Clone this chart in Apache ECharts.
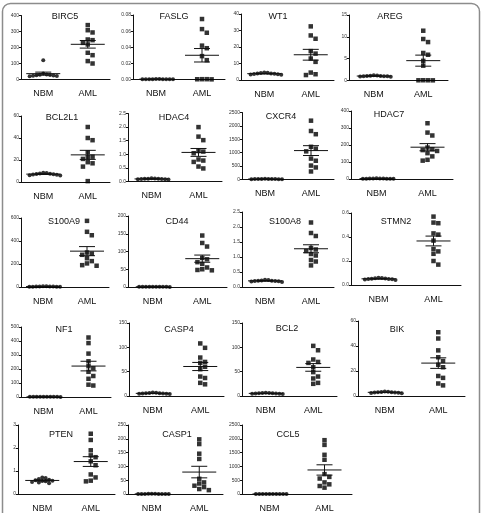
<!DOCTYPE html>
<html>
<head>
<meta charset="utf-8">
<script src="https://cdn.jsdelivr.net/npm/echarts@6/dist/echarts.min.js"></script>
<style>
html, body { margin: 0; padding: 0; background: #fff; }
#chart { width: 483px; height: 513px; }
</style>
</head>
<body>
<div id="chart"></div>
<script>
// genes in reading order (4 per row)
const genes = ['BIRC5', 'FASLG', 'WT1', 'AREG', 'BCL2L1', 'HDAC4', 'CXCR4', 'HDAC7', 'S100A9', 'CD44',
  'S100A8', 'STMN2', 'NF1', 'CASP4', 'BCL2', 'BIK', 'PTEN', 'CASP1', 'CCL5'];
const groups = ['NBM', 'AML'];

// y axis max / tick step / decimals of tick labels
const yMax = [400, 0.08, 40, 15, 60, 2.5, 2500, 400, 600, 200, 2.5, 0.6, 500, 150, 150, 60, 3, 250, 2500];
const yStep = [100, 0.02, 10, 5, 20, 0.5, 500, 100, 200, 50, 0.5, 0.2, 100, 50, 50, 20, 1, 50, 500];
const yDec = [0, 2, 0, 0, 0, 1, 0, 0, 0, 0, 1, 1, 0, 0, 0, 0, 0, 0, 0];

// values
const birc5NBM = [121, 38, 32, 28, 25, 22, 30, 20, 26, 24];
const birc5AML = [340, 308, 294, 250, 246, 229, 219, 167, 152, 115, 100];
const faslgNBM = [0.0004, 0.0003, 0.0005, 0.0002, 0.0004, 0.0003, 0.0006, 0.0002, 0.0003, 0.0004];
const faslgAML = [0.075, 0.0625, 0.058, 0.042, 0.0388, 0.029, 0.024, 0.0004, 0.0003, 0.0004, 0.0002];
const wt1NBM = [3.5, 4.2, 3.8, 3.3, 4.6, 3.9, 3.6, 4.4, 3.2, 4.0];
const wt1AML = [32.5, 27, 25, 17.5, 16, 13, 11, 4.5, 3.5, 3];
const aregNBM = [0.95, 1.1, 1.0, 0.9, 1.2, 1.05, 0.98, 1.15, 0.88, 1.02];
const aregAML = [11.4, 9.5, 8.8, 6.3, 5.9, 4.5, 3.4, 0.05, 0.04, 0.06, 0.05];
const bcl2l1NBM = [7.2, 8.5, 6.5, 7.8, 5.8, 7.0, 8.2, 6.8, 7.5, 6.2];
const bcl2l1AML = [50, 40, 38, 27, 23, 22.5, 21, 18, 17, 14, 0.8];
const hdac4NBM = [0.09, 0.11, 0.08, 0.1, 0.12, 0.07, 0.095, 0.105, 0.085, 0.1];
const hdac4AML = [2.0, 1.65, 1.52, 1.12, 1.1, 1.04, 0.81, 0.77, 0.72, 0.55, 0.48];
const cxcr4NBM = [15, 22, 10, 18, 25, 12, 20, 8, 16, 14];
const cxcr4AML = [2195, 1810, 1690, 1220, 1150, 1050, 780, 700, 520, 450, 300];
const hdac7NBM = [2, 3, 1.5, 2.5, 4, 1, 3.5, 2, 2.8, 1.8];
const hdac7AML = [328, 273, 256, 185, 175, 170, 165, 152, 133, 113, 108];
const s100a9NBM = [3, 5, 2, 4, 6, 3.5, 2.5, 4.5, 3, 5.5];
const s100a9AML = [575, 480, 450, 300, 290, 280, 250, 225, 205, 190, 185];
const cd44NBM = [0.5, 0.8, 0.3, 0.6, 1, 0.4, 0.7, 0.5, 0.9, 0.6];
const cd44AML = [145, 124, 114, 82, 78, 70, 65, 55, 50, 48, 47];
const s100a8NBM = [0.2, 0.22, 0.18, 0.21, 0.24, 0.19, 0.2, 0.23, 0.17, 0.21];
const s100a8AML = [2.15, 1.8, 1.7, 1.3, 1.25, 1.2, 1.1, 1.05, 0.9, 0.85, 0.72];
const stmn2NBM = [0.05, 0.055, 0.045, 0.06, 0.048, 0.052, 0.058, 0.042, 0.05, 0.056];
const stmn2AML = [0.57, 0.52, 0.515, 0.43, 0.42, 0.37, 0.3, 0.28, 0.26, 0.2, 0.17];
const nf1NBM = [1, 2, 1.5, 0.8, 2.5, 1.2, 1.8, 1, 2.2, 1.4];
const nf1AML = [425, 385, 310, 255, 220, 205, 180, 150, 130, 88, 82];
const casp4NBM = [5, 6, 4.5, 5.5, 7, 4, 6.5, 5, 5.8, 4.8];
const casp4AML = [108, 99, 79, 70, 68, 60, 55, 40, 37, 27, 24];
const bcl2NBM = [5, 6, 4.5, 5.5, 6.8, 4.2, 6.2, 5, 5.6, 4.8];
const bcl2AML = [103, 94, 75, 70, 68, 59, 49, 40, 36, 27, 25];
const bikNBM = [2.8, 3.2, 2.5, 3, 3.6, 2.2, 3.4, 2.6, 3.1, 2.9];
const bikAML = [51, 46, 36.5, 31, 28, 25, 23, 16, 14.5, 10, 8.5];
const ptenNBM = [0.58, 0.65, 0.52, 0.7, 0.47, 0.6, 0.55, 0.72, 0.5, 0.62, 0.57];
const ptenAML = [2.62, 2.35, 1.9, 1.68, 1.6, 1.42, 1.25, 0.85, 0.72, 0.58, 0.55];
const casp1NBM = [0.3, 0.5, 0.2, 0.4, 0.6, 0.3, 0.45, 0.25, 0.35, 0.5];
const casp1AML = [198, 181, 146, 127, 55, 42, 38, 30, 25, 18, 14];
const ccl5NBM = [2, 3, 1.5, 2.5, 4, 2, 3.5, 1, 2.8, 2.2];
const ccl5AML = [1950, 1780, 1420, 1240, 720, 620, 560, 420, 350, 290, 230];

const nbmData = [birc5NBM, faslgNBM, wt1NBM, aregNBM, bcl2l1NBM, hdac4NBM, cxcr4NBM, hdac7NBM, s100a9NBM,
  cd44NBM, s100a8NBM, stmn2NBM, nf1NBM, casp4NBM, bcl2NBM, bikNBM, ptenNBM, casp1NBM, ccl5NBM];
const amlData = [birc5AML, faslgAML, wt1AML, aregAML, bcl2l1AML, hdac4AML, cxcr4AML, hdac7AML, s100a9AML,
  cd44AML, s100a8AML, stmn2AML, nf1AML, casp4AML, bcl2AML, bikAML, ptenAML, casp1AML, ccl5AML];

// plot boxes [left, top, width, height] and title centres
const boxes = [
  [21, 15.5, 89, 64], [133, 15, 92, 64.5], [241, 14, 93, 66], [349, 15, 99, 65.5],
  [21, 116, 89, 66], [128, 113.5, 94, 68], [242, 112.5, 92, 67], [351, 111, 102, 68],
  [21, 218, 88, 69], [128, 216, 99, 71], [242, 212, 92, 75], [351, 213, 110, 72],
  [21, 327, 90, 70], [129, 323, 95, 73], [242, 323, 95, 73], [358, 321, 107, 75],
  [18, 425, 97, 72], [128, 425, 95, 72], [242, 425, 110, 72]
];
const titlePos = [
  [65, 17], [174, 17], [278, 17], [390, 17],
  [62, 118], [174, 118], [281, 117], [389, 115],
  [64, 222], [177, 222], [285, 222], [396, 222],
  [64, 330], [179, 330], [287, 329], [397, 330],
  [61, 435], [177, 435], [288, 435]
];

const FONT = '"Liberation Sans", Arial, sans-serif';
const INK = '#111';

function mean(a) { return a.reduce((s, v) => s + v, 0) / a.length; }
function sem(a) {
  const m = mean(a);
  const v = a.reduce((s, x) => s + (x - m) * (x - m), 0) / (a.length - 1);
  return Math.sqrt(v / a.length);
}

// beeswarm offsets in pixels so that dots do not sit on top of each other
function swarm(vals, ppu, d) {
  const order = vals.map((v, i) => i).sort((a, b) => vals[b] - vals[a]);
  const placed = [];
  const off = new Array(vals.length).fill(0);
  order.forEach(i => {
    const y = vals[i] * ppu;
    for (let k = 0; k < 60; k++) {
      const dx = (k % 2 ? 1 : -1) * Math.ceil(k / 2) * d;
      const hit = placed.some(p => Math.abs(p[0] - dx) < d - 0.01 && Math.abs(p[1] - y) < d - 0.01);
      if (!hit) { off[i] = dx; placed.push([dx, y]); break; }
    }
  });
  return off;
}

function renderMean(params, api) {
  const x = api.value(0), m = api.value(1), s = api.value(2);
  const c = api.coord([x, m]);
  const hi = api.coord([x, m + s]);
  const lo = api.coord([x, m - s]);
  const st = { stroke: INK, lineWidth: 1 };
  return {
    type: 'group',
    children: [
      { type: 'line', shape: { x1: c[0] - 17, y1: c[1], x2: c[0] + 17, y2: c[1] }, style: st },
      { type: 'line', shape: { x1: c[0], y1: hi[1], x2: c[0], y2: lo[1] }, style: st },
      { type: 'line', shape: { x1: c[0] - 8, y1: hi[1], x2: c[0] + 8, y2: hi[1] }, style: st },
      { type: 'line', shape: { x1: c[0] - 8, y1: lo[1], x2: c[0] + 8, y2: lo[1] }, style: st }
    ]
  };
}

const grid = [], xAxis = [], yAxis = [], series = [], graphic = [];

graphic.push({
  type: 'rect', shape: { x: 2.5, y: 3.5, width: 477, height: 530, r: 8 },
  style: { fill: 'none', stroke: '#8c8c8c', lineWidth: 1.5 }, silent: true
});

genes.forEach((g, i) => {
  const b = boxes[i];
  grid.push({ left: b[0], top: b[1], width: b[2], height: b[3] });
  xAxis.push({
    type: 'category', gridIndex: i, data: groups, boundaryGap: true,
    axisLine: { lineStyle: { color: INK, width: 1 } },
    axisTick: { alignWithLabel: true, length: 2, lineStyle: { color: INK } },
    axisLabel: { fontSize: 9, fontFamily: FONT, color: INK, margin: 10 }
  });
  xAxis.push({ type: 'value', gridIndex: i, min: 0, max: 2, show: false });
  yAxis.push({
    type: 'value', gridIndex: i, min: 0, max: yMax[i], interval: yStep[i],
    axisLine: { show: true, lineStyle: { color: INK, width: 1 } },
    axisTick: { show: true, length: 2, lineStyle: { color: INK } },
    splitLine: { show: false },
    axisLabel: {
      fontSize: 5, fontFamily: FONT, color: '#333', margin: 2,
      formatter: v => v.toFixed(yDec[i])
    }
  });

  const ppu = b[3] / yMax[i];
  const unitPx = b[2] / 2;
  const nb = nbmData[i], am = amlData[i];
  const offN = swarm(nb, ppu, 3.4);
  const offA = swarm(am, ppu, 4.8);

  series.push({
    type: 'scatter', xAxisIndex: 2 * i + 1, yAxisIndex: i,
    symbol: 'circle', symbolSize: 4, itemStyle: { color: '#000' },
    data: nb.map((v, k) => [0.5 + offN[k] / unitPx, v]), silent: true
  });
  series.push({
    type: 'scatter', xAxisIndex: 2 * i + 1, yAxisIndex: i,
    symbol: 'rect', symbolSize: 4.5, itemStyle: { color: '#000' },
    data: am.map((v, k) => [1.5 + offA[k] / unitPx, v]), silent: true
  });
  series.push({
    type: 'custom', xAxisIndex: 2 * i + 1, yAxisIndex: i,
    renderItem: renderMean, clip: false, silent: true, z: 3,
    encode: { x: 0, y: 1 },
    data: [[0.5, mean(nb), sem(nb)], [1.5, mean(am), sem(am)]]
  });

  graphic.push({
    type: 'text', x: titlePos[i][0], y: titlePos[i][1], silent: true,
    style: { text: g, font: '9px ' + FONT, fill: INK, align: 'center', verticalAlign: 'middle' }
  });
});

const chart = echarts.init(document.getElementById('chart'), null, { renderer: 'canvas' });
chart.setOption({
  animation: false,
  grid: grid,
  xAxis: xAxis,
  yAxis: yAxis,
  series: series,
  graphic: graphic
});
</script>
</body>
</html>
